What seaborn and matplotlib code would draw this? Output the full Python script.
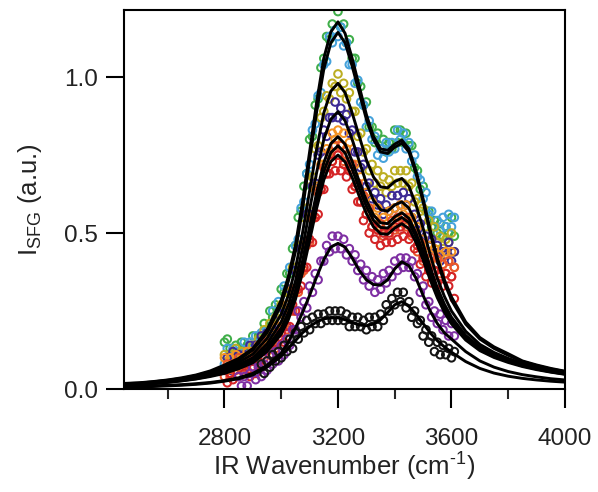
import numpy as np
import pandas as pd
import matplotlib
matplotlib.use("Agg")
import matplotlib.pyplot as plt
import seaborn as sns

# ---------------- data ----------------
FIT_X = [2450, 2500, 2550, 2600, 2650, 2700, 2750, 2800, 2850, 2900, 2950,
         3000, 3025, 3050, 3075, 3100, 3125, 3150, 3175, 3200, 3225, 3250, 3275,
         3300, 3325, 3350, 3375, 3400, 3425, 3450, 3475, 3500, 3525, 3550, 3575, 3600,
         3650, 3700, 3750, 3800, 3850, 3900, 3950, 4000]

fit_green = [.018, .020, .024, .029, .036, .045, .058, .077, .098, .13, .19,
             .285, .36, .46, .60, .76, .92, 1.06, 1.145, 1.177, 1.14, 1.06, .97, .88, .81, .77, .765, .785, .798, .77, .70, .61, .51, .42, .35, .295,
             .215, .165, .135, .113, .09, .077, .066, .057]
fit_blue = [.017, .019, .023, .028, .034, .043, .055, .072, .093, .125, .18,
            .27, .345, .44, .575, .735, .89, 1.025, 1.11, 1.143, 1.11, 1.035, .95, .865, .80, .76, .755, .775, .788, .76, .69, .60, .50, .41, .34, .285,
            .208, .16, .13, .108, .088, .075, .064, .056]
fit_yellow = [.016, .018, .021, .026, .032, .04, .051, .066, .085, .112, .162,
              .24, .30, .385, .50, .635, .77, .885, .955, .98, .95, .885, .81, .735, .68, .648, .645, .665, .675, .65, .59, .515, .43, .355, .297, .25,
              .185, .143, .117, .098, .082, .07, .06, .052]
fit_indigo = [.015, .017, .02, .024, .03, .037, .047, .06, .078, .10, .145,
              .215, .27, .345, .45, .575, .695, .80, .865, .889, .86, .80, .73, .66, .605, .575, .57, .59, .60, .58, .53, .465, .39, .325, .272, .23,
              .172, .134, .11, .093, .078, .067, .058, .05]
fit_orange = [.014, .016, .019, .023, .028, .035, .044, .056, .072, .093, .133,
              .195, .245, .315, .41, .52, .63, .725, .787, .809, .785, .73, .665, .605, .558, .533, .53, .552, .565, .547, .50, .44, .37, .31, .26, .22,
              .165, .129, .106, .09, .076, .065, .056, .049]
fit_red1 = [.014, .016, .018, .022, .027, .033, .042, .053, .068, .088, .126,
            .185, .233, .30, .39, .497, .605, .697, .758, .78, .757, .705, .643, .586, .541, .518, .516, .537, .55, .533, .488, .43, .362, .303, .255, .216,
            .162, .127, .104, .088, .074, .064, .055, .048]
fit_red2 = [.013, .015, .017, .021, .026, .032, .04, .05, .065, .084, .12,
            .176, .222, .287, .373, .476, .58, .67, .729, .75, .728, .678, .618, .563, .52, .498, .496, .516, .53, .514, .47, .414, .35, .293, .246, .209,
            .157, .123, .101, .085, .072, .062, .054, .047]
fit_purple = [.008, .009, .01, .012, .014, .017, .021, .027, .036, .05, .075,
              .115, .15, .195, .245, .30, .36, .415, .455, .467, .455, .42, .38, .35, .335, .333, .35, .385, .408, .395, .355, .30, .25, .21, .18, .16,
              .12, .09, .07, .056, .046, .039, .033, .029]
fit_black = [.006, .007, .008, .01, .012, .015, .019, .025, .033, .045, .07,
             .105, .13, .155, .18, .20, .215, .225, .228, .228, .222, .213, .205, .203, .208, .222, .245, .27, .28, .265, .24, .21, .18, .155, .135, .118,
             .088, .066, .051, .041, .034, .029, .025, .022]

DATA_X = np.arange(2800, 3611, 10)
PURPLE_X = np.arange(2850, 3611, 10)
BLACK_X = np.arange(2930, 3611, 10)

data_green = [.15, .16, .13, .10, .14, .11, .15, .12, .14, .12,
              .17, .13, .17, .16, .21, .19, .25, .23, .27, .26,
              .32, .31, .37, .37, .45, .46, .55, .57, .65, .69,
              .80, .81, .91, .93, 1.03, 1.06, 1.13, 1.12, 1.17, 1.15,
              1.21, 1.16, 1.17, 1.11, 1.12, 1.06, 1.06, .98, .97, .91,
              .92, .84, .84, .79, .82, .77, .80, .76, .79, .77,
              .83, .79, .83, .79, .82, .78, .78, .71, .70, .64,
              .65, .57, .57, .52, .54, .50, .53, .49, .52, .50,
              .55, .49]
data_blue = [.08, .13, .09, .13, .09, .12, .09, .15, .11, .15,
             .11, .17, .14, .18, .15, .19, .18, .25, .23, .28,
             .26, .33, .32, .39, .38, .46, .48, .58, .60, .69,
             .72, .83, .85, .94, .95, 1.04, 1.05, 1.13, 1.11, 1.15,
             1.13, 1.16, 1.10, 1.11, 1.04, 1.04, .98, .99, .92, .91,
             .84, .86, .80, .81, .75, .77, .74, .79, .76, .79,
             .77, .83, .80, .82, .77, .79, .73, .75, .68, .67,
             .61, .63, .56, .57, .52, .54, .51, .55, .52, .56,
             .52, .55]
data_yellow = [.11, .07, .11, .08, .13, .09, .12, .09, .12, .11,
               .14, .11, .16, .13, .19, .16, .21, .18, .23, .22,
               .27, .25, .31, .31, .39, .39, .46, .46, .55, .58,
               .67, .68, .77, .78, .87, .89, .94, .93, .98, .97,
               1.01, .95, .98, .93, .95, .89, .89, .81, .82, .76,
               .77, .70, .72, .66, .70, .65, .68, .63, .67, .65,
               .70, .66, .70, .66, .70, .65, .66, .60, .61, .57,
               .58, .52, .54, .48, .52, .47, .49, .45, .48, .47,
               .50, .44]
data_indigo = [.06, .10, .06, .12, .08, .11, .07, .11, .09, .14,
               .09, .14, .11, .17, .14, .18, .15, .19, .18, .24,
               .20, .26, .25, .32, .32, .38, .37, .45, .47, .56,
               .56, .65, .66, .75, .76, .83, .81, .87, .87, .92,
               .87, .90, .86, .88, .82, .83, .76, .76, .71, .72,
               .65, .66, .61, .63, .59, .61, .56, .59, .57, .62,
               .58, .62, .59, .63, .59, .61, .55, .56, .51, .53,
               .46, .49, .44, .48, .43, .46, .41, .44, .43, .47,
               .41, .44]
data_orange = [.10, .06, .10, .07, .11, .07, .10, .07, .12, .09,
               .12, .09, .14, .12, .16, .12, .17, .14, .20, .18,
               .22, .20, .27, .26, .32, .31, .37, .38, .46, .47,
               .55, .55, .64, .65, .72, .72, .77, .76, .82, .80,
               .83, .78, .82, .77, .79, .72, .72, .66, .68, .62,
               .63, .57, .60, .55, .58, .52, .55, .52, .57, .54,
               .58, .54, .59, .56, .59, .54, .55, .50, .52, .47,
               .48, .43, .46, .42, .45, .40, .43, .40, .44, .41,
               .44, .39]
data_red1 = [.04, .08, .04, .08, .06, .10, .06, .09, .06, .11,
             .07, .11, .07, .12, .10, .15, .11, .15, .13, .18,
             .16, .21, .19, .25, .25, .32, .31, .37, .38, .46,
             .47, .55, .55, .63, .64, .71, .69, .75, .73, .78,
             .75, .78, .73, .75, .71, .72, .65, .66, .60, .62,
             .56, .58, .52, .54, .51, .53, .49, .52, .49, .54,
             .51, .55, .51, .55, .52, .55, .49, .50, .44, .47,
             .41, .44, .39, .42, .38, .42, .37, .40, .37, .41,
             .36, .39]
data_red2 = [.06, .02, .05, .03, .08, .04, .08, .05, .08, .04,
             .09, .05, .09, .07, .12, .09, .13, .11, .15, .12,
             .18, .15, .20, .20, .27, .25, .32, .33, .39, .39,
             .48, .47, .55, .56, .64, .64, .69, .69, .73, .70,
             .75, .70, .72, .68, .70, .64, .65, .60, .60, .54,
             .56, .50, .52, .48, .51, .46, .50, .47, .50, .47,
             .52, .48, .52, .49, .53, .48, .50, .45, .46, .40,
             .42, .36, .38, .34, .38, .34, .36, .33, .37, .33,
             .36, .29]
data_purple = [.04, .01, .04, .01, .05,
               .07, .03, .07, .04, .08, .06, .11, .08, .12, .09,
               .14, .11, .16, .14, .19, .19, .25, .23, .28, .26,
               .33, .31, .37, .35, .41, .41, .46, .44, .49, .45,
               .49, .45, .48, .43, .45, .41, .43, .38, .40, .35,
               .38, .33, .36, .31, .35, .32, .37, .34, .38, .36,
               .41, .38, .42, .39, .42, .39, .41, .36, .37, .31,
               .33, .27, .28, .23, .25, .21, .24, .19, .22, .17,
               .21, .17]
data_black = [.08, .05, .09, .07, .11, .09, .12,
              .10, .14, .12, .16, .13, .18, .16, .20, .18, .22,
              .19, .23, .21, .24, .21, .24, .22, .25, .22, .25,
              .22, .25, .22, .24, .20, .23, .20, .23, .20, .22,
              .19, .23, .20, .23, .20, .24, .22, .27, .25, .29,
              .27, .31, .28, .31, .26, .28, .23, .25, .21, .22,
              .17, .19, .15, .17, .12, .15, .11, .14, .11, .13,
              .10, .12]

# ---------------- style ----------------
sns.set_theme(style="ticks")
plt.rcParams['font.family'] = ['Liberation Sans', 'DejaVu Sans']
plt.rcParams['mathtext.fontset'] = 'custom'
plt.rcParams['mathtext.rm'] = 'Liberation Sans'
plt.rcParams['mathtext.it'] = 'Liberation Sans:italic'
plt.rcParams['mathtext.bf'] = 'Liberation Sans:bold'

fig = plt.figure(figsize=(5.98, 4.92), dpi=100)
ax = fig.add_axes([124 / 598, 1 - 389 / 492, (565 - 124) / 598, (389 - 10) / 492])

series = [
    (DATA_X, data_green, "#3fae49"),
    (DATA_X, data_blue, "#45a2db"),
    (DATA_X, data_yellow, "#bcae22"),
    (DATA_X, data_indigo, "#3d2a94"),
    (DATA_X, data_orange, "#f39324"),
    (DATA_X, data_red1, "#e9552b"),
    (DATA_X, data_red2, "#d42426"),
    (PURPLE_X, data_purple, "#7e2fa3"),
    (BLACK_X, data_black, "#141414"),
]
for xs, ys, col in series:
    sns.scatterplot(x=xs, y=ys, ax=ax, marker="o", s=30, color=col,
                    facecolor="none", edgecolor=col, linewidth=1.45, zorder=2)

fits = [fit_green, fit_blue, fit_yellow, fit_indigo, fit_orange,
        fit_red1, fit_red2, fit_purple, fit_black]
for fy in fits:
    sns.lineplot(x=FIT_X, y=fy, ax=ax, color="black", linewidth=2.1, zorder=3)

ax.set_xlim(2446, 4000)
ax.set_ylim(0, 1.215)
ax.set_xticks([2800, 3200, 3600, 4000])
ax.set_xticks([2600, 3000, 3400, 3800], minor=True)
ax.set_yticks([0.0, 0.5, 1.0])
ax.set_yticklabels(["0.0", "0.5", "1.0"])

for sp in ax.spines.values():
    sp.set_linewidth(1.5)
    sp.set_color("black")

ax.tick_params(axis="x", which="major", direction="out", length=14, width=1.5,
               labelsize=17.5, pad=14, colors="black")
ax.tick_params(axis="x", which="minor", direction="out", length=7, width=1.5)
ax.tick_params(axis="y", which="major", direction="out", length=13, width=1.5,
               labelsize=17.5, pad=6, colors="black")
for lab in ax.get_xticklabels() + ax.get_yticklabels():
    lab.set_color("#222222")

ax.set_xlabel("IR Wavenumber (cm$^{\\mathregular{\u20101}}$)", fontsize=18.5, labelpad=1, color="#222222")
ax.set_ylabel("I$_{\\mathregular{SFG}}$ (a.u.)", fontsize=18.5, labelpad=14, color="#222222")

fig.savefig("out.png", dpi=100)
